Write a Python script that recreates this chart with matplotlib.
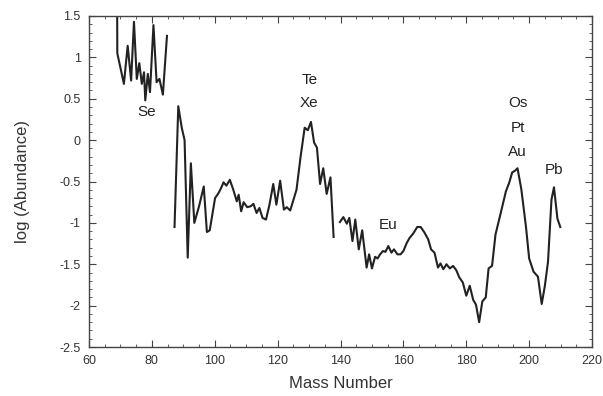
import numpy as np
import matplotlib
matplotlib.use("Agg")
import matplotlib.pyplot as plt
from matplotlib.ticker import MultipleLocator, FuncFormatter

# Se region (first point runs off the top of the axes)
mass_se = [68.9, 69.0, 71.1, 72.3, 73.4, 74.3, 75.2, 76.0, 76.8, 77.5, 77.9,
           78.7, 79.4, 80.5, 81.5, 82.4, 83.5, 84.8]
abund_se = [2.3, 1.05, 0.68, 1.14, 0.72, 1.43, 0.74, 0.93, 0.68, 0.82, 0.48,
            0.80, 0.58, 1.39, 0.70, 0.74, 0.55, 1.26]

# A = 87 .. 138 (Te / Xe peak)
mass_te = [87.2, 88.4, 89.5, 90.4, 91.4, 92.4, 93.5, 95.0, 96.5, 97.5, 98.4,
           100.1, 101.2, 102.0, 102.8, 103.7, 104.8, 105.9, 107.0, 107.6, 108.4,
           109.2, 110.3, 111.4, 112.3, 113.3, 114.2, 115.2, 116.3, 117.4, 118.6,
           119.6, 120.8, 122.0, 122.9, 124.0, 126.0, 127.3, 128.6, 129.6, 130.6,
           131.6, 132.5, 133.5, 134.5, 135.6, 136.8, 137.8]
abund_te = [-1.05, 0.41, 0.15, 0.0, -1.42, -0.28, -1.0, -0.80, -0.56, -1.11, -1.09,
            -0.70, -0.64, -0.58, -0.51, -0.55, -0.48, -0.60, -0.74, -0.66, -0.86,
            -0.75, -0.81, -0.80, -0.77, -0.88, -0.82, -0.94, -0.96, -0.78, -0.53,
            -0.78, -0.49, -0.84, -0.81, -0.85, -0.60, -0.20, 0.15, 0.12, 0.22,
            -0.03, -0.09, -0.53, -0.34, -0.65, -0.45, -1.17]

# A = 140 .. 210 (rare earths, Os/Pt/Au peak, Pb)
mass_re = [139.8, 140.9, 142.0, 142.8, 143.8, 144.7, 145.8, 146.9, 148.3, 149.1,
           150.0, 151.0, 151.8, 152.6, 153.5, 154.3, 155.2, 156.2, 157.0, 158.1,
           159.1, 160.0, 161.1, 162.0, 163.1, 164.4, 165.5, 166.6, 167.9, 168.8,
           169.9, 171.0, 171.8, 172.7, 173.7, 174.8, 175.8, 176.8, 177.8, 178.9,
           180.0, 181.1, 182.2, 183.1, 184.1, 185.1, 186.2, 187.1, 188.2, 189.3,
           190.9, 192.6, 193.7, 194.6, 195.5, 196.3, 197.5, 199.0, 200.0, 201.4,
           202.8, 204.0, 205.0, 206.0, 207.1, 207.9, 209.0, 209.9]
abund_re = [-0.99, -0.93, -1.01, -0.94, -1.22, -0.96, -1.32, -1.09, -1.54, -1.38,
            -1.55, -1.41, -1.43, -1.38, -1.34, -1.35, -1.28, -1.36, -1.32, -1.38,
            -1.38, -1.34, -1.24, -1.18, -1.13, -1.05, -1.05, -1.11, -1.20, -1.32,
            -1.36, -1.54, -1.49, -1.56, -1.50, -1.55, -1.52, -1.57, -1.66, -1.72,
            -1.88, -1.76, -1.93, -1.99, -2.20, -1.95, -1.90, -1.55, -1.52, -1.14,
            -0.89, -0.62, -0.51, -0.39, -0.37, -0.34, -0.59, -1.05, -1.43, -1.59,
            -1.65, -1.98, -1.76, -1.47, -0.72, -0.57, -0.95, -1.05]

# element labels
lab_text = ["Se", "Te", "Xe", "Eu", "Os", "Pt", "Au", "Pb"]
lab_x = [78.2, 130.1, 130.1, 155.2, 196.3, 196.3, 196.3, 207.8]
lab_y = [0.34, 0.73, 0.45, -1.03, 0.45, 0.15, -0.14, -0.36]

plt.rcParams['font.family'] = ['Liberation Sans', 'DejaVu Sans']
plt.rcParams['axes.unicode_minus'] = False

fig = plt.figure(figsize=(6.03, 3.96), dpi=100)
ax = fig.add_axes([0.1476, 0.1237, 0.8342, 0.8359])

for xs, ys in [(mass_se, abund_se), (mass_te, abund_te), (mass_re, abund_re)]:
    ax.plot(xs, ys, color="#222222", lw=1.5)

for t, x, y in zip(lab_text, lab_x, lab_y):
    ax.text(x, y, t, fontsize=11, color="#222222", ha="center", va="center")

ax.set_xlim(60, 220)
ax.set_ylim(-2.5, 1.5)
ax.xaxis.set_major_locator(MultipleLocator(20))
ax.xaxis.set_minor_locator(MultipleLocator(5))
ax.yaxis.set_major_locator(MultipleLocator(0.5))
ax.yaxis.set_minor_locator(MultipleLocator(0.1))
ax.yaxis.set_major_formatter(FuncFormatter(lambda v, p: f"{v:g}"))
ax.tick_params(which="both", direction="in", top=True, right=True,
               labelsize=9, colors="#444444", labelcolor="#333333")
ax.tick_params(which="major", length=5, pad=6)
ax.tick_params(which="minor", length=2.5)
for s in ax.spines.values():
    s.set_color("#444444")
    s.set_linewidth(1.0)

ax.set_xlabel("Mass Number", fontsize=12, color="#333333", labelpad=6)
ax.set_ylabel("log (Abundance)", fontsize=12, color="#333333", labelpad=21)

fig.savefig("out.png", dpi=100)
